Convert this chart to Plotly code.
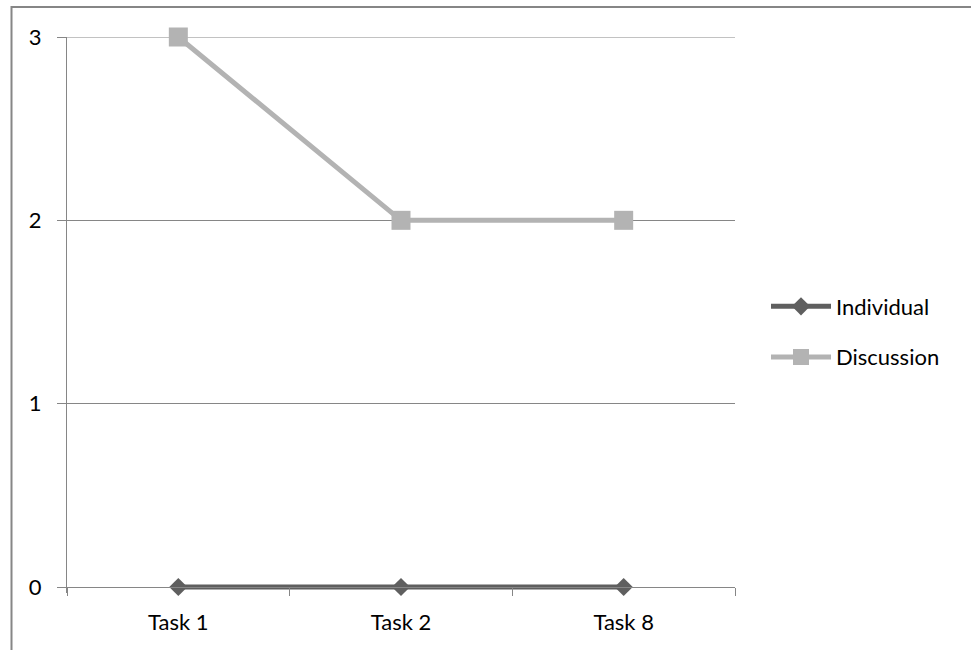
import plotly.graph_objects as go

categories = ["Task 1", "Task 2", "Task 8"]
individual = [0, 0, 0]
discussion = [3, 2, 2]
y_ticks = [0, 1, 2, 3]

W, H = 971, 650
L, R, T = 67, 236, 37
axis_px = 587          # screen y of value 0
pad = 6                # extra plot area below 0 so the line at 0 is not clipped
B = H - axis_px - pad
pw, ph = W - L - R, H - T - B
unit = (axis_px - T) / (max(y_ticks) - min(y_ticks))
ymin = -pad / unit

fig = go.Figure()
fig.add_trace(go.Scatter(
    x=categories, y=individual, name="Individual", mode="lines+markers",
    line=dict(color="#5f5f5f", width=5),
    marker=dict(symbol="diamond", size=14, color="#5f5f5f"),
    cliponaxis=False, legendgroup="a"))
fig.add_trace(go.Scatter(
    x=categories, y=discussion, name="Discussion", mode="lines+markers",
    line=dict(color="#b3b3b3", width=5),
    marker=dict(symbol="square", size=19, color="#b3b3b3"),
    cliponaxis=False, legendgroup="b"))

font = dict(family="Lato, Carlito, Calibri, sans-serif", size=22, color="#000000")

fig.update_layout(
    width=W, height=H,
    margin=dict(l=L, r=R, t=T, b=B, autoexpand=False),
    paper_bgcolor="white", plot_bgcolor="white",
    font=font,
    showlegend=True,
    legend=dict(x=1 + 31 / pw, y=1 - (332 - T) / ph, xanchor="left", yanchor="middle",
                xref="paper", yref="paper",
                tracegroupgap=19, itemwidth=60,
                font=font, bgcolor="rgba(0,0,0,0)"),
    xaxis=dict(type="category", range=[-0.5, 2.5], showgrid=False,
               anchor="free", position=pad / ph,
               showline=True, linecolor="#868686", linewidth=1,
               ticks="outside", tickson="boundaries", ticklen=8,
               tickcolor="#868686", ticklabelstandoff=16,
               tickfont=font, zeroline=False, fixedrange=True),
    yaxis=dict(range=[ymin, max(y_ticks)], tickvals=y_ticks, showgrid=True,
               gridcolor="#868686", gridwidth=1,
               showline=True, linecolor="#868686", linewidth=1,
               ticks="outside", ticklen=9, tickcolor="#868686",
               ticklabelstandoff=11, tickfont=font,
               zeroline=False, fixedrange=True),
    shapes=[
        dict(type="rect", xref="paper", yref="paper",
             x0=(11.5 - L) / pw, x1=(W + 10 - L) / pw,
             y0=-(B + 10) / ph, y1=(H - B - 7) / ph,
             line=dict(color="#868686", width=2), layer="below"),
        dict(type="line", xref="paper", yref="y", x0=0, x1=1,
             y0=max(y_ticks), y1=max(y_ticks),
             line=dict(color="#868686", width=1), layer="below"),
    ],
)

fig.write_html("out.html", config={"displayModeBar": False},
               post_script="document.body.style.margin='0';")
